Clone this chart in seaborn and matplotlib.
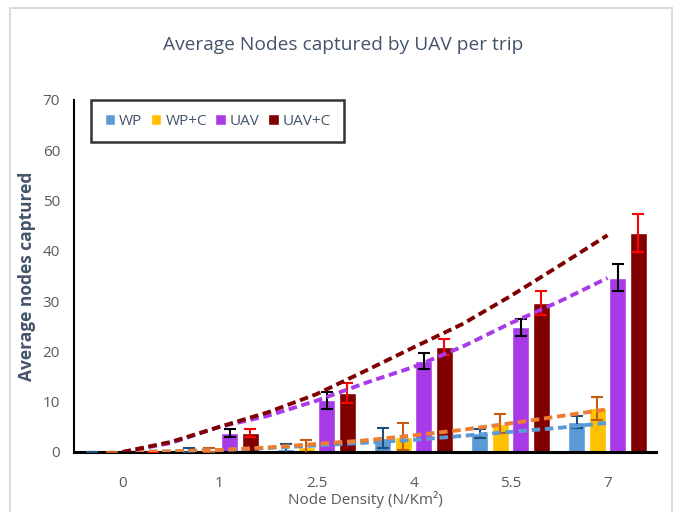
import numpy as np
import pandas as pd
import matplotlib
matplotlib.use("Agg")
import matplotlib.pyplot as plt
import seaborn as sns

# values
densities = ["0", "1", "2.5", "4", "5.5", "7"]
series = ["WP", "WP+C", "UAV", "UAV+C"]
wp = [0, 0.3, 0.6, 2.8, 3.7, 6.0]
wp_c = [0, 0.3, 1.0, 3.0, 5.6, 8.7]
uav = [0, 3.8, 10.3, 18.1, 24.8, 34.7]
uav_c = [0, 3.8, 11.8, 20.9, 29.7, 43.5]

wp_err = [0, 0.4, 1.0, 2.0, 0.9, 1.2]
wp_c_err = [0, 0.4, 1.3, 2.7, 1.9, 2.3]
uav_err = [0, 0.8, 1.7, 1.6, 1.7, 2.6]
uav_c_err = [0, 0.8, 2.0, 1.6, 2.4, 3.8]

# dashed trend lines, read every half category (category index units)
trend_x = [0, 0.5, 1, 1.5, 2, 2.5, 3, 3.5, 4, 4.5, 5]
wp_trend = [0, 0.1, 0.4, 0.8, 1.3, 1.85, 2.4, 3.2, 4.0, 4.8, 5.8]
wp_c_trend = [0, 0.1, 0.4, 0.9, 1.6, 2.3, 3.3, 4.4, 5.7, 7.1, 8.5]
uav_trend = [0, 1.8, 5.0, 7.2, 10.2, 13.7, 16.9, 20.9, 25.6, 29.9, 34.6]
uav_c_trend = [0, 2.0, 5.0, 7.9, 11.5, 16.1, 20.8, 25.4, 31.0, 37.0, 43.1]

colors = ["#5b9bd5", "#ffc000", "#a93ae8", "#800000"]
err_colors = ["#1f4e79", "#c55a11", "#000000", "#ff0000"]
trend_colors = ["#5b9bd5", "#ed7d31", "#a93ae8", "#800000"]

df = pd.DataFrame({
    "density": densities * 4,
    "series": [s for s in series for _ in densities],
    "value": wp + wp_c + uav + uav_c,
})
errs = [wp_err, wp_c_err, uav_err, uav_c_err]
trends = [wp_trend, wp_c_trend, uav_trend, uav_c_trend]

sns.set_style("white")
plt.rcParams["font.family"] = ["Open Sans", "DejaVu Sans"]

fig = plt.figure(figsize=(6.77, 5.12), dpi=100)
ax = fig.add_axes([0.1093, 0.1172, 0.8597, 0.6875])

sns.barplot(data=df, x="density", y="value", hue="series", hue_order=series,
            palette=colors, width=0.845, gap=0.17, errorbar=None, ax=ax,
            saturation=1)

# error bars on top of each bar
for cont, e, ec in zip(ax.containers, errs, err_colors):
    xs = [p.get_x() + p.get_width() / 2 for p in cont.patches]
    hs = [p.get_height() for p in cont.patches]
    ax.errorbar(xs, hs, yerr=e, fmt="none", ecolor=ec, elinewidth=1.5,
                capsize=4, capthick=1.5, zorder=4)

# trend lines
for t, c in zip(trends, trend_colors):
    ax.plot(trend_x, t, color=c, linestyle=(0, (2.2, 1.2)),
            linewidth=2.8, zorder=5)

ax.set_ylim(0, 70)
ax.set_xlim(-0.5, 5.5)
ax.set_yticks(range(0, 71, 10))
ax.tick_params(axis="y", length=0, pad=10, labelsize=11, labelcolor="#595959")
ax.tick_params(axis="x", length=0, pad=17, labelsize=11, labelcolor="#595959")
ax.set_xlabel("Node Density (N/Km²)", fontsize=11, color="#595959", labelpad=0)
ax.set_ylabel("Average nodes captured", fontsize=12.5, fontweight="bold",
              color="#44546a", labelpad=5)

for s in ["top", "right"]:
    ax.spines[s].set_visible(False)
ax.spines["left"].set_color("black")
ax.spines["left"].set_linewidth(1.5)
ax.spines["bottom"].set_color("black")
ax.spines["bottom"].set_linewidth(2.2)

leg = ax.legend(loc="upper left", ncol=4, bbox_to_anchor=(0.029, 1.0),
                borderaxespad=0, frameon=True, fancybox=False,
                handlelength=0.7, handleheight=0.7, handletextpad=0.25,
                columnspacing=0.55, fontsize=11, borderpad=0.9, title=None)
leg.get_frame().set_edgecolor("black")
leg.get_frame().set_linewidth(1.8)
for txt in leg.get_texts():
    txt.set_color("#44546a")

fig.text(343 / 677, 1 - 45 / 512, "Average Nodes captured by UAV per trip",
         ha="center", va="center", fontsize=13.8, color="#44546a")

# light chart border
fig.patches.append(plt.Rectangle((10 / 677, -0.05), 662 / 677, 1.05 - 8 / 512,
                                 transform=fig.transFigure, fill=False,
                                 edgecolor="#d9dde3", linewidth=1.5))

fig.savefig("out.png", dpi=100)
